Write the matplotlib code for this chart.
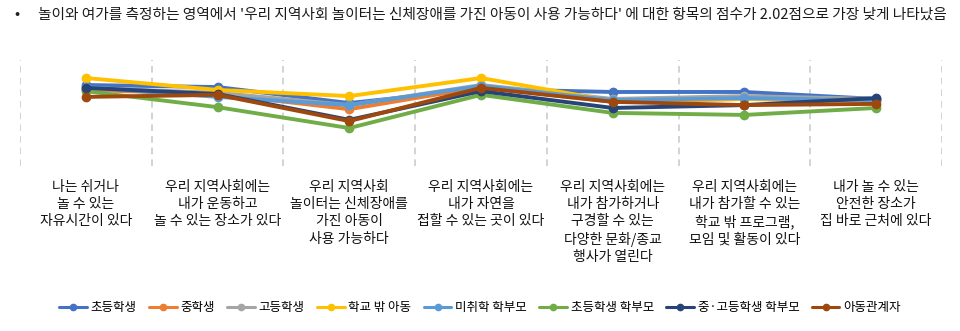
import numpy as np
import matplotlib
matplotlib.use('Agg')
import matplotlib.pyplot as plt

plt.rcParams['font.family'] = ['Noto Sans CJK KR', 'DejaVu Sans']

categories = [
    '나는 쉬거나\n놀 수 있는\n자유시간이 있다',
    '우리 지역사회에는\n내가 운동하고\n놀 수 있는 장소가 있다',
    '우리 지역사회\n놀이터는 신체장애를\n가진 아동이\n사용 가능하다',
    '우리 지역사회에는\n내가 자연을\n접할 수 있는 곳이 있다',
    '우리 지역사회에는\n내가 참가하거나\n구경할 수 있는\n다양한 문화/종교\n행사가 열린다',
    '우리 지역사회에는\n내가 참가할 수 있는\n학교 밖 프로그램,\n모임 및 활동이 있다',
    '내가 놀 수 있는\n안전한 장소가\n집 바로 근처에 있다',
]

series_names = ['초등학생', '중학생', '고등학생', '학교 밖 아동',
                '미취학 학부모', '초등학생 학부모', '중·고등학생 학부모', '아동관계자']

elem = [3.39, 3.34, 2.95, 3.29, 3.22, 3.22, 3.05]
middle = [3.27, 3.17, 2.80, 3.34, 2.98, 3.05, 3.00]
high = [3.32, 3.20, 2.90, 3.39, 3.05, 3.12, 3.05]
out_of_school = [3.56, 3.27, 3.12, 3.56, 3.00, 3.05, 3.02]
preschool_parent = [3.34, 3.10, 2.90, 3.37, 3.02, 3.07, 3.02]
elem_parent = [3.24, 2.85, 2.34, 3.15, 2.71, 2.66, 2.83]
secondary_parent = [3.32, 3.17, 2.54, 3.24, 2.83, 2.90, 3.07]
child_worker = [3.10, 3.15, 2.51, 3.32, 2.98, 2.90, 2.93]

series_values = [elem, middle, high, out_of_school, preschool_parent,
                 elem_parent, secondary_parent, child_worker]
colors = ['#4472C4', '#ED7D31', '#A5A5A5', '#FFC000',
          '#5B9BD5', '#70AD47', '#264478', '#9E480E']

fig = plt.figure(figsize=(9.6, 3.31), dpi=100)
# axes spans y 60..166 px; ylim chosen so points keep their pixel height
top_px, bot_px = 60, 166
ax = fig.add_axes([20 / 960, 1 - bot_px / 331, 922 / 960, (bot_px - top_px) / 331])

x = np.arange(len(categories))
for name, vals, c in zip(series_names, series_values, colors):
    ax.plot(x, vals, color=c, lw=2.8, marker='o', markersize=6,
            label=name, solid_capstyle='round')

for b in np.arange(-0.5, len(categories), 1.0):
    ax.axvline(b, color='#cccccc', lw=1.2, ls=(0, (4, 3)), zorder=0)

ax.set_xlim(-0.5, len(categories) - 0.5)
ax.set_ylim(4.0 - (bot_px - top_px) / 41, 4.0)
ax.set_yticks([])
ax.set_xticks(x)
ax.set_xticklabels(categories, fontsize=10, color='#111111', linespacing=1.3,
                   va='top')
ax.tick_params(axis='x', length=0, pad=10)
for s in ax.spines.values():
    s.set_visible(False)

fig.text(14 / 960, 1 - 15 / 331, '•', fontsize=11, va='center', color='#222222')
fig.text(38 / 960, 1 - 15 / 331,
         "놀이와 여가를 측정하는 영역에서 '우리 지역사회 놀이터는 신체장애를 가진 아동이 사용 가능하다' "
         "에 대한 항목의 점수가 2.02점으로 가장 낮게 나타났음",
         fontsize=10.6, va='center', color='#1a1a1a', fontweight='medium')

leg = fig.legend(loc='center', bbox_to_anchor=(0.5, 1 - 308 / 331), ncol=8,
                 frameon=False, fontsize=9, handlelength=2.2, columnspacing=1.0,
                 handletextpad=0.3, markerscale=0.75)
for h in leg.legend_handles:
    h.set_linewidth(2.2)

fig.savefig('out.png', dpi=100)
